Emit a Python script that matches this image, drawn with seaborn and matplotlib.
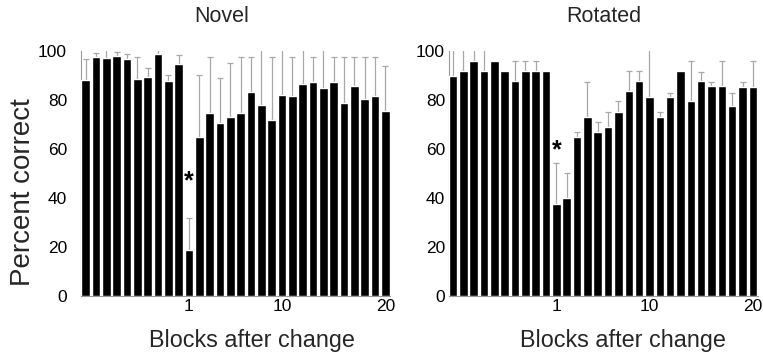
import numpy as np
import pandas as pd
import matplotlib
matplotlib.use("Agg")
import matplotlib.pyplot as plt
import seaborn as sns

sns.set_theme(style="white")
plt.rcParams["font.family"] = ["Liberation Sans", "DejaVu Sans"]

# Percent correct per block: 10 blocks before the change, then 20 blocks after
novel_values = [88.0, 97.7, 97.2, 98.1, 96.7, 88.7, 89.4, 98.6, 87.7, 94.6,
                18.6, 65.0, 74.8, 70.5, 72.9, 74.8, 83.1, 78.0, 71.8, 82.2,
                81.6, 86.4, 87.2, 85.0, 87.2, 78.9, 85.8, 80.3, 81.5, 75.5]
# Upper end of each error bar (None = no error bar)
novel_err_top = [96.7, 99.0, 102.0, 99.5, 98.6, 97.7, 92.9, 100.6, 90.4, 98.4,
                 31.8, 90.0, 97.7, 89.1, 95.0, 97.7, 97.7, 104.0, 97.7, 104.0,
                 97.7, 104.0, 97.7, 104.0, 97.7, 97.7, 97.7, 97.7, 97.7, 94.0]

rotated_values = [89.8, 91.7, 96.0, 91.7, 96.0, 91.7, 87.9, 91.7, 91.7, 91.7,
                  37.5, 39.9, 64.8, 73.2, 66.8, 68.8, 75.2, 83.5, 87.7, 81.4,
                  73.1, 81.4, 91.8, 79.5, 87.8, 85.7, 85.7, 77.4, 85.5, 85.5]
rotated_err_top = [102.0, 102.0, 102.0, 102.0, None, None, 95.9, 95.9, 95.9, None,
                   54.4, 50.1, 66.8, 87.5, 71.2, 74.9, 79.5, 91.7, 91.7, 104.0,
                   74.9, 83.0, None, 95.9, 91.6, 87.5, 95.9, 83.0, 87.5, 95.9]

panel_titles = ["Novel", "Rotated"]
star_heights = [47.0, 59.5]          # y position of the significance marker
tick_blocks = [10, 19, 29]          # bar index of blocks 1, 10 and 20
tick_labels = ["1", "10", "20"]
y_ticks = [0, 20, 40, 60, 80, 100]

W, H = 763, 358
fig = plt.figure(figsize=(W / 100, H / 100), dpi=100)
axes = [fig.add_axes([81 / W, 62 / H, 309 / W, 245 / H]),
        fig.add_axes([448.5 / W, 62 / H, 309 / W, 245 / H])]

title_x = [222, 604]
ytick_pad = [10, 2.5]
xlabel_x = [0.553, 0.565]

panels = [(novel_values, novel_err_top), (rotated_values, rotated_err_top)]
for k, (ax, title, (vals, tops), star_y) in enumerate(
        zip(axes, panel_titles, panels, star_heights)):
    df = pd.DataFrame({"block": np.arange(len(vals)), "pct": vals})
    sns.barplot(data=df, x="block", y="pct", color="black", saturation=1,
                width=0.83, ax=ax, zorder=3)

    idx = [i for i, t in enumerate(tops) if t is not None]
    xs = np.array(idx, dtype=float)
    ys = np.array([vals[i] for i in idx])
    up = np.array([tops[i] - vals[i] for i in idx])
    ax.errorbar(xs, ys, yerr=[np.zeros_like(up), up], fmt="none",
                ecolor="#a8a8a8", elinewidth=0.9, capsize=2.2, capthick=0.9,
                zorder=1)

    ax.text(10, star_y, "*", ha="center", va="center", fontsize=18,
            fontweight="bold", color="black")

    ax.set_xlim(-0.44, 29.45)
    ax.set_ylim(0, 100)
    ax.set_yticks(y_ticks)
    ax.set_yticklabels([str(v) for v in y_ticks], fontsize=12.5)
    ax.set_xticks(tick_blocks)
    ax.set_xticklabels(tick_labels, fontsize=12.5)
    ax.tick_params(axis="x", length=0, pad=2, colors="black")
    ax.tick_params(axis="y", length=0, pad=ytick_pad[k], colors="black")
    for side in ("top", "right"):
        ax.spines[side].set_visible(False)
    for side in ("left", "bottom"):
        ax.spines[side].set_color("#9a9a9a")
        ax.spines[side].set_linewidth(0.8)
    fig.text(title_x[k] / W, 1 - 17 / H, title, ha="center", va="center",
             fontsize=15.5)
    ax.set_xlabel("Blocks after change", fontsize=16.8)
    ax.xaxis.set_label_coords(xlabel_x[k], -0.135)
    ax.set_ylabel("")
    ax.grid(False)

axes[0].set_ylabel("Percent correct", fontsize=20)
axes[0].yaxis.set_label_coords(-0.145, 0.424)

fig.savefig("out.png", dpi=100)
